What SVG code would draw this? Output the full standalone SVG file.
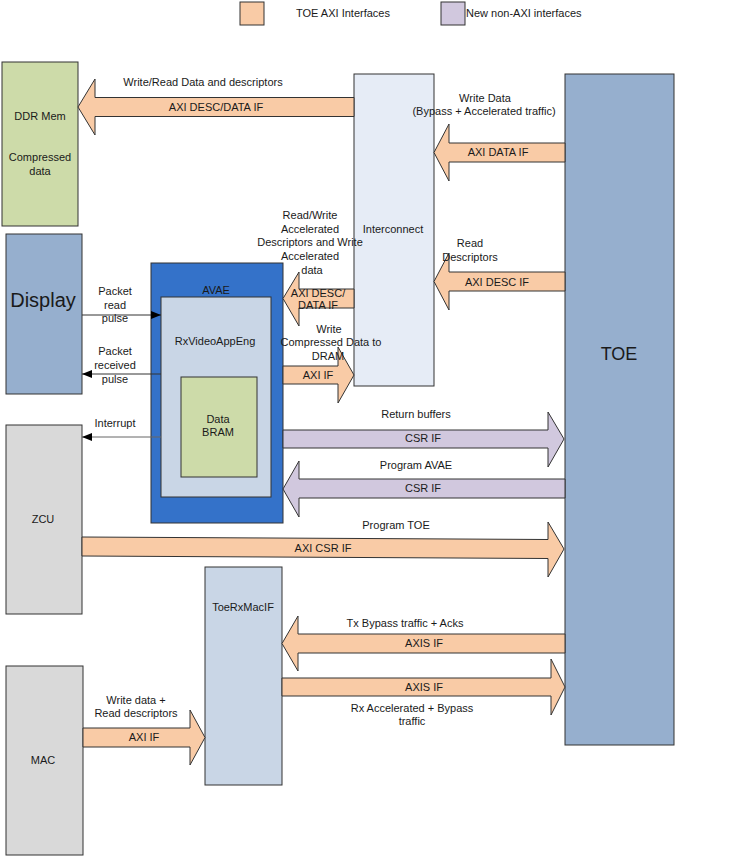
<svg xmlns="http://www.w3.org/2000/svg" width="739" height="866" viewBox="0 0 739 866">
<style>
text{font-family:"Liberation Sans",Arial,sans-serif;font-size:11px;fill:#1a1a1a}
.c{text-anchor:middle}
.box{stroke:#333;stroke-width:1}
.axi{fill:#f9cba6;stroke:#333;stroke-width:1}
.csr{fill:#d1c8de;stroke:#333;stroke-width:1}
.ln{stroke:#333;stroke-width:1;fill:none}
</style>
<defs>
<marker id="ah" markerWidth="10" markerHeight="8" refX="10" refY="4" orient="auto" markerUnits="userSpaceOnUse">
<path d="M0,0 L10,4 L0,8 Z" fill="#000"/>
</marker>
</defs>
<rect width="739" height="866" fill="#fff"/>

<g id="legend">
<rect x="240" y="2" width="24" height="23" class="axi"/>
<text x="296" y="17">TOE AXI Interfaces</text>
<rect x="441" y="2" width="24" height="23" class="csr"/>
<text x="466" y="17">New non-AXI interfaces</text>
</g>

<g id="ddr">
<rect x="2" y="62" width="76" height="164" fill="#cddba9" class="box"/>
<text x="40" y="120" class="c">DDR Mem</text>
<text x="40" y="161" class="c">Compressed</text>
<text x="40" y="175" class="c">data</text>
</g>

<g id="interconnect">
<rect x="354" y="74" width="80" height="312" fill="#e6ecf6" class="box"/>
<text x="393" y="233" class="c">Interconnect</text>
</g>

<g id="toe">
<rect x="565" y="74" width="109" height="671" fill="#96afce" class="box"/>
<text x="619" y="360" class="c" style="font-size:18px">TOE</text>
</g>

<g id="display">
<rect x="6" y="234" width="76" height="160" fill="#96afce" class="box"/>
<text x="43" y="307" class="c" style="font-size:20px">Display</text>
</g>

<g id="avae">
<rect x="151" y="263" width="132" height="260" fill="#3472c9" class="box"/>
<text x="216" y="294" class="c">AVAE</text>
</g>

<g id="rxvideoappeng">
<rect x="161" y="297" width="110" height="200" fill="#c9d6e6" class="box"/>
<text x="215" y="345" class="c">RxVideoAppEng</text>
</g>

<g id="databram">
<rect x="181" y="377" width="76" height="100" fill="#cddba9" class="box"/>
<text x="218" y="423" class="c">Data</text>
<text x="218" y="436" class="c">BRAM</text>
</g>

<g id="zcu">
<rect x="6" y="425" width="76" height="189" fill="#d9d9d9" class="box"/>
<text x="43" y="523" class="c">ZCU</text>
</g>

<g id="toerxmacif">
<rect x="205" y="567" width="77" height="218" fill="#c9d6e6" class="box"/>
<text x="243" y="611" class="c">ToeRxMacIF</text>
</g>

<g id="mac">
<rect x="6" y="666" width="77" height="189" fill="#d9d9d9" class="box"/>
<text x="43" y="764" class="c">MAC</text>
</g>

<g id="connectors">
<!-- 1 Interconnect -> DDR -->
<path class="axi" d="M78,107 L95,79 L95,97.5 L354,97.5 L354,116.5 L95,116.5 L95,135 Z"/>
<text x="203" y="86" class="c">Write/Read Data and descriptors</text>
<text x="216" y="111" class="c">AXI DESC/DATA IF</text>

<!-- 2 TOE -> Interconnect data -->
<path class="axi" d="M434,152.5 L449,124 L449,143 L565,143 L565,162 L449,162 L449,181 Z"/>
<text x="485" y="102" class="c">Write Data</text>
<text x="484" y="115" class="c">(Bypass + Accelerated traffic)</text>
<text x="498" y="156" class="c">AXI DATA IF</text>

<!-- 3 TOE -> Interconnect desc -->
<path class="axi" d="M434,281.5 L449,253 L449,272 L565,272 L565,291 L449,291 L449,310 Z"/>
<text x="470" y="247" class="c">Read</text>
<text x="470" y="261" class="c">Descriptors</text>
<text x="497" y="286" class="c">AXI DESC IF</text>

<!-- 4 Interconnect -> AVAE -->
<path class="axi" d="M283,298.5 L299,272 L299,289 L354,289 L354,308 L299,308 L299,326 Z"/>
<text x="310" y="219" class="c">Read/Write</text>
<text x="310" y="233" class="c">Accelerated</text>
<text x="310" y="246" class="c">Descriptors and Write</text>
<text x="310" y="260" class="c">Accelerated</text>
<text x="312" y="274" class="c">data</text>
<text x="318" y="297" class="c">AXI DESC/</text>
<text x="318" y="309" class="c">DATA IF</text>

<!-- 5 AVAE -> Interconnect -->
<path class="axi" d="M283,366 L338,366 L338,347 L354,375 L338,403 L338,384 L283,384 Z"/>
<text x="329" y="333" class="c">Write</text>
<text x="331" y="346" class="c">Compressed Data to</text>
<text x="328" y="360" class="c">DRAM</text>
<text x="318" y="379" class="c">AXI IF</text>

<!-- 6 AVAE -> TOE return buffers -->
<path class="csr" d="M283,430 L548,430 L548,412 L564,439 L548,467 L548,448 L283,448 Z"/>
<text x="416" y="418" class="c">Return buffers</text>
<text x="423" y="442" class="c">CSR IF</text>

<!-- 7 TOE -> AVAE program -->
<path class="csr" d="M283,489 L299,461 L299,479 L565,479 L565,498 L299,498 L299,517 Z"/>
<text x="416" y="469" class="c">Program AVAE</text>
<text x="423" y="492" class="c">CSR IF</text>

<!-- 8 ZCU -> TOE program -->
<path class="axi" d="M82,537 L548,539.5 L548,522 L564,549 L548,577 L548,558.5 L82,556 Z"/>
<text x="396" y="529" class="c">Program TOE</text>
<text x="323" y="552" class="c">AXI CSR IF</text>

<!-- 9 TOE -> ToeRxMacIF -->
<path class="axi" d="M282,643.5 L298,616 L298,634 L565,634 L565,653 L298,653 L298,671 Z"/>
<text x="405" y="627" class="c">Tx Bypass traffic + Acks</text>
<text x="424" y="647" class="c">AXIS IF</text>

<!-- 10 ToeRxMacIF -> TOE -->
<path class="axi" d="M282,678 L551,678 L551,659 L565,687 L551,715 L551,696 L282,696 Z"/>
<text x="424" y="691" class="c">AXIS IF</text>
<text x="412" y="712" class="c">Rx Accelerated + Bypass</text>
<text x="412" y="725" class="c">traffic</text>

<!-- 11 MAC -> ToeRxMacIF -->
<path class="axi" d="M83,728 L190,728 L190,710 L205,737.5 L190,765 L190,747 L83,747 Z"/>
<text x="136" y="704" class="c">Write data +</text>
<text x="136" y="717" class="c">Read descriptors</text>
<text x="144" y="741" class="c">AXI IF</text>

<!-- signal lines -->
<line class="ln" x1="82" y1="315" x2="161" y2="315" marker-end="url(#ah)"/>
<text x="115" y="295" class="c">Packet</text>
<text x="115" y="309" class="c">read</text>
<text x="115" y="322" class="c">pulse</text>
<line class="ln" x1="161" y1="374" x2="82" y2="374" marker-end="url(#ah)"/>
<text x="115" y="355" class="c">Packet</text>
<text x="115" y="369" class="c">received</text>
<text x="115" y="383" class="c">pulse</text>
<line class="ln" x1="161" y1="437" x2="82" y2="437" style="stroke:#666" marker-end="url(#ah)"/>
<text x="115" y="427" class="c">Interrupt</text>
</g>
</svg>
